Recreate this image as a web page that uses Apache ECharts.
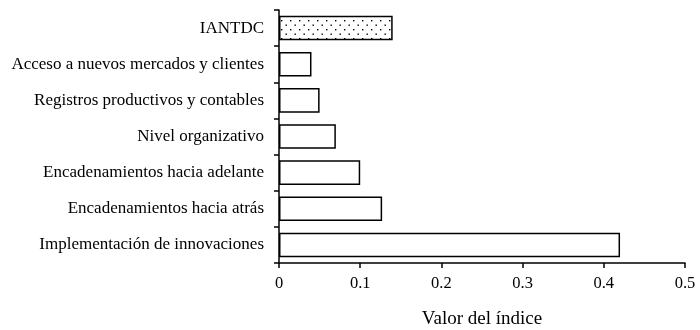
<!DOCTYPE html>
<html>
<head>
<meta charset="utf-8">
<script src="https://cdn.jsdelivr.net/npm/echarts@6/dist/echarts.min.js"></script>
<style>
html,body{margin:0;padding:0;background:#fff;}
#bar1{width:700px;height:330px;}
</style>
</head>
<body>
<div id="bar1"></div>
<script>
// datos (de abajo hacia arriba)
var categorias = ['Implementación de innovaciones', 'Encadenamientos hacia atrás', 'Encadenamientos hacia adelante',
    'Nivel organizativo', 'Registros productivos y contables', 'Acceso a nuevos mercados y clientes', 'IANTDC'];
var valores = [0.42, 0.127, 0.10, 0.07, 0.05, 0.04, 0.14];
var ticksX = [0, 0.1, 0.2, 0.3, 0.4, 0.5];

// patron de puntos para la barra IANTDC
var tile = document.createElement('canvas');
tile.width = 9; tile.height = 9;
var ctx = tile.getContext('2d');
ctx.fillStyle = '#fff';
ctx.fillRect(0, 0, 9, 9);
ctx.fillStyle = '#000';
ctx.fillRect(2, 2, 1.4, 1.4);
ctx.fillRect(6.5, 6.5, 1.4, 1.4);

var fuente = '"Liberation Serif", "Times New Roman", serif';

var datos = valores.map(function (v, i) {
    if (categorias[i] === 'IANTDC') {
        return { value: v, itemStyle: { color: { image: tile, repeat: 'repeat' } } };
    }
    return v;
});

var myChart = echarts.init(document.getElementById('bar1'));
var option = {
    animation: false,
    textStyle: { fontFamily: fuente },
    grid: {
        left: 279,
        right: 15,
        top: 10,
        bottom: 67,
        containLabel: false,
        outerBoundsMode: 'none'
    },
    xAxis: {
        type: 'value',
        min: ticksX[0],
        max: ticksX[ticksX.length - 1],
        interval: 0.1,
        name: 'Valor del índice',
        nameLocation: 'middle',
        nameGap: 47,
        nameTextStyle: { fontFamily: fuente, fontSize: 19, color: '#000' },
        axisLine: { show: true, lineStyle: { color: '#000', width: 1.5 } },
        axisTick: { show: true, length: 5, lineStyle: { color: '#000', width: 1.5 } },
        axisLabel: { fontFamily: fuente, fontSize: 16.5, color: '#000', margin: 12 },
        splitLine: { show: false }
    },
    yAxis: {
        type: 'category',
        data: categorias,
        axisLine: { show: true, lineStyle: { color: '#000', width: 1.5 } },
        axisTick: { show: true, length: 5, lineStyle: { color: '#000', width: 1.5 } },
        axisLabel: { fontFamily: fuente, fontSize: 17, color: '#000', margin: 15 }
    },
    series: [
        {
            type: 'bar',
            data: datos,
            barWidth: '68%',
            itemStyle: { color: '#fff', borderColor: '#000', borderWidth: 1.5 }
        }
    ]
};
myChart.setOption(option);
</script>
</body>
</html>
